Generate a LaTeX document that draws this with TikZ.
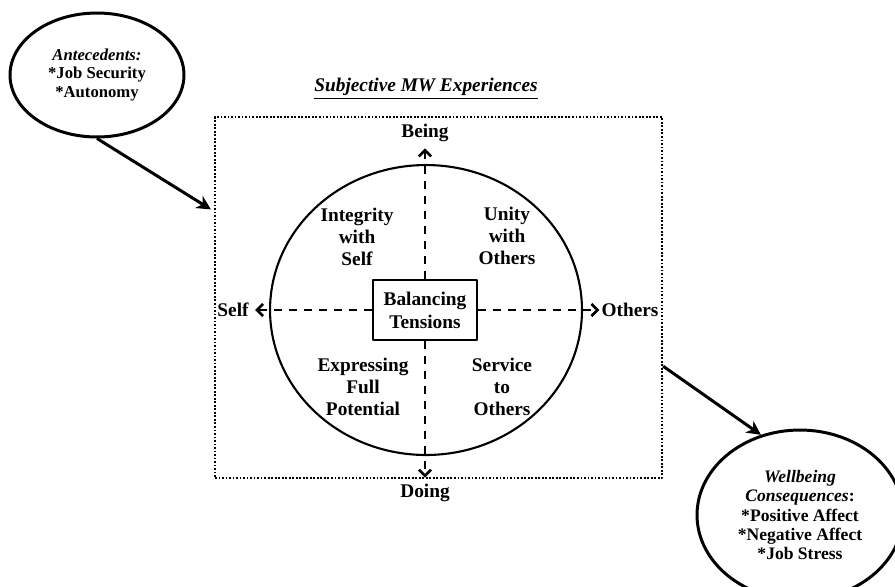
\documentclass[tikz,border=0pt]{standalone}
\usepackage{fontspec}
\setmainfont{Liberation Serif}
\usetikzlibrary{shapes.geometric,arrows.meta}

\begin{document}
\begin{tikzpicture}[x=0.02cm, y=-0.02cm, line join=round,
    font=\fontsize{11}{12.5}\selectfont\bfseries,
    bulle/.style={draw, ellipse, line width=1.7pt, inner sep=0pt, align=center},
    fleche/.style={line width=1.7pt, -{Stealth[length=8pt, width=8pt, inset=2.5pt]}},
    axe/.style={line width=1.1pt, dash pattern=on 4.5pt off 4pt,
                -{Straight Barb[length=3.5pt, width=7pt, line width=1.5pt]}},
    quart/.style={align=center, inner sep=0pt},
    etiq/.style={inner sep=3.5pt}]

    \useasboundingbox (0,0) rectangle (895,586);

    % Ellipses d'entree et de sortie
    \node[bulle, minimum width=3.48cm, minimum height=2.48cm,
          font=\fontsize{9.5}{10.8}\selectfont\bfseries] (ante) at (97,75)
        {\textit{Antecedents:}\\*Job Security\\*Autonomy};
    \node[bulle, minimum width=4.12cm, minimum height=3.4cm,
          font=\fontsize{10}{11}\selectfont\bfseries] (conseq) at (800,515)
        {\textit{Wellbeing}\\\textit{Consequences}:\\*Positive Affect\\*Negative Affect\\*Job Stress};

    % Cadre pointille et titre
    \node[draw, line width=1.3pt, dash pattern=on 1pt off 1pt,
          minimum width=8.94cm, minimum height=7.22cm, inner sep=0pt] (cadre) at (438.5,297.5) {};
    \node[inner sep=0pt] (titre) at (426,89) {\underline{\textit{Subjective MW Experiences}}};

    % Cercle et tensions au centre
    \node[draw, ellipse, line width=1.2pt, minimum width=6.24cm, minimum height=5.8cm,
          inner sep=0pt] (cercle) at (426,310) {};
    \node[draw, line width=1.4pt, minimum width=2.08cm, minimum height=1.2cm,
          align=center, inner sep=0pt, font=\fontsize{11}{13}\selectfont\bfseries] (tens) at (425,310)
        {Balancing\\Tensions};

    % Axes
    \node[etiq] (being) at (425,133) {Being};
    \node[etiq] (doing) at (425,493) {Doing};
    \node[etiq] (self) at (233,310) {Self};
    \node[etiq, inner sep=1pt] (others) at (630,310) {Others};
    \draw[axe] (tens.north) -- (being.south);
    \draw[axe] (tens.south) -- (doing.north);
    \draw[axe] (tens.west) -- (self.east);
    \draw[axe] (tens.east) -- (others.west);

    % Quadrants
    \node[quart] (integ) at (357,237) {Integrity\\with\\Self};
    \node[quart] (unity) at (507,236) {Unity\\with\\Others};
    \node[quart] (expr) at (363,387) {Expressing\\Full\\Potential};
    \node[quart] (serv) at (502,387) {Service\\to\\Others};

    % Fleches principales
    \draw[fleche, shorten >=2pt] (ante.south) -- (cadre.159.7);
    \draw[fleche] (cadre.-17) -- (conseq.116);

\end{tikzpicture}
\end{document}
